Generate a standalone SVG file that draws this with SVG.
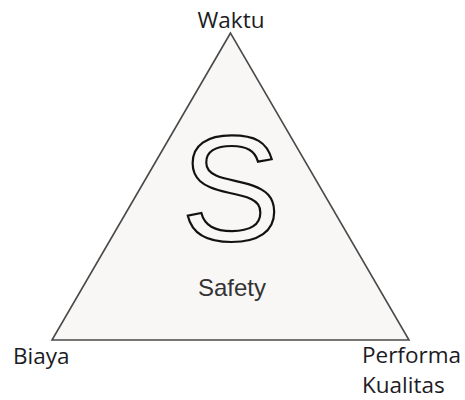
<svg xmlns="http://www.w3.org/2000/svg" width="465" height="400" viewBox="0 0 465 400">
<style>
.lbl{font-family:"Open Sans","Noto Sans",sans-serif;font-size:22.5px;fill:#1c1c24}
.big{font-family:"Liberation Sans",Arial,sans-serif;font-size:150px;fill:none;stroke:#111;stroke-width:2.2}
.safety{font-family:"Liberation Sans",Arial,sans-serif;font-size:24px;fill:#333}
</style>
<rect width="465" height="400" fill="#ffffff"/>
<g id="triangle">
<polygon points="230.5,33 52,340 409,340" fill="#f8f7f6" stroke="#4a4a4a" stroke-width="1.6" stroke-linejoin="miter"/>
</g>
<g id="safety">
<text class="big" x="231" y="241" text-anchor="middle">S</text>
<text class="safety" x="232" y="296" text-anchor="middle">Safety</text>
</g>
<g id="waktu"><text class="lbl" x="231" y="28" text-anchor="middle">Waktu</text></g>
<g id="biaya"><text class="lbl" x="13" y="364">Biaya</text></g>
<g id="performa"><text class="lbl" x="362" y="363">Performa</text><text class="lbl" x="362" y="393">Kualitas</text></g>
</svg>
